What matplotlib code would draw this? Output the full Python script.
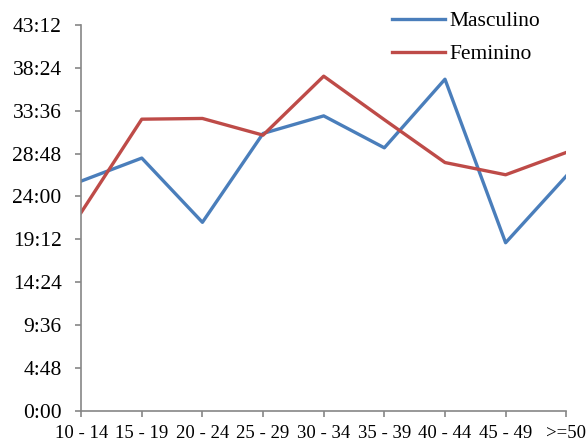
import matplotlib.pyplot as plt
from matplotlib.ticker import FuncFormatter, MultipleLocator

# Grupos de edad y tiempos (en horas)
grupos = ["10 - 14", "15 - 19", "20 - 24", "25 - 29", "30 - 34",
          "35 - 39", "40 - 44", "45 - 49", ">=50"]
masculino = [25.72, 28.3, 21.1, 31.06, 33.03, 29.45, 37.14, 18.81, 26.28]
feminino = [22.2, 32.66, 32.74, 30.87, 37.48, 32.6, 27.8, 26.43, 28.93]

plt.rcParams['font.family'] = ['Liberation Serif', 'DejaVu Serif']

fig = plt.figure(figsize=(5.88, 4.41), dpi=100)
ax = fig.add_axes([0.138, 0.069, 0.825, 0.874])

x = list(range(len(grupos)))
ax.plot(x, masculino, color='#4A7EBB', lw=2.4, label='Masculino')
ax.plot(x, feminino, color='#BE4B48', lw=2.4, label='Feminino')

ax.set_xlim(0, len(grupos) - 1)
ax.set_ylim(0, 43.2)
ax.set_xticks(x)
ax.set_xticklabels(grupos)
ax.yaxis.set_major_locator(MultipleLocator(4.8))


def hhmm(v, pos):
    total = int(round(v * 60))
    return f"{total // 60}:{total % 60:02d}"


ax.yaxis.set_major_formatter(FuncFormatter(hhmm))

for s in ['top', 'right']:
    ax.spines[s].set_visible(False)
for s in ['left', 'bottom']:
    ax.spines[s].set_color('#868686')
    ax.spines[s].set_linewidth(1.2)
ax.tick_params(axis='both', colors='#868686', length=4, width=1.2,
               labelcolor='black')
ax.tick_params(axis='x', pad=6.5, labelsize=13.5)
ax.tick_params(axis='y', pad=10, labelsize=15.5)

leg = ax.legend(loc='upper left', bbox_to_anchor=(0.667, 0.975),
                bbox_transform=fig.transFigure, frameon=False,
                borderpad=0, borderaxespad=0,
                handlelength=2.46, handletextpad=0.2, labelspacing=0.6,
                fontsize=15.5)

fig.savefig('out.png', dpi=100)
